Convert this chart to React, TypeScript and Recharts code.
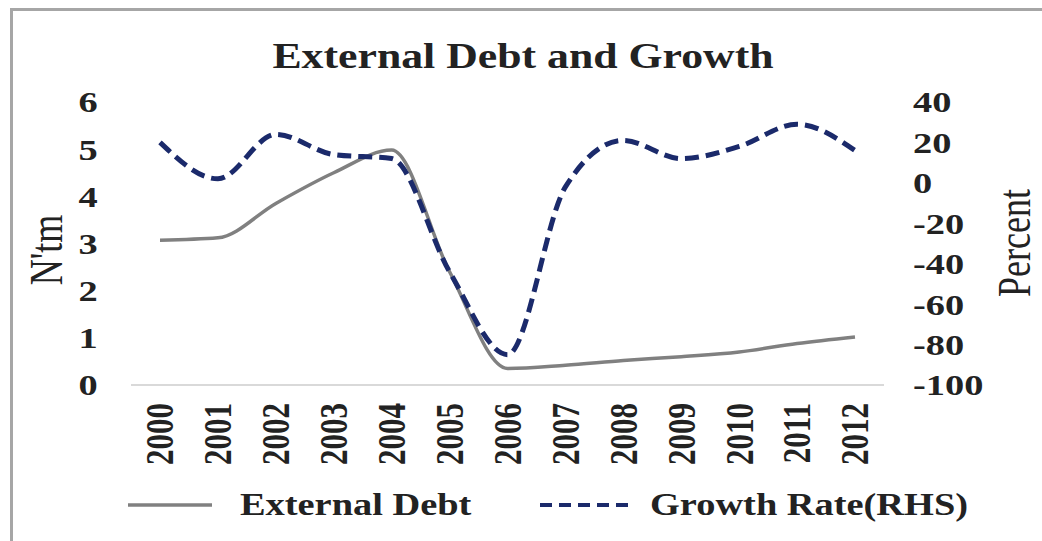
import { LineChart, Line, XAxis, YAxis, Legend } from "recharts";

const years = ["2000", "2001", "2002", "2003", "2004", "2005", "2006", "2007", "2008", "2009", "2010", "2011", "2012"];
const externalDebt = [3.07, 3.12, 3.85, 4.5, 4.98, 2.4, 0.35, 0.42, 0.52, 0.6, 0.7, 0.88, 1.02];
const growthRate = [20, 2, 24, 14, 12, -44, -85, -2, 21, 12, 18, 29, 16];
const leftTicks = [0, 1, 2, 3, 4, 5, 6];
const rightTicks = [-100, -80, -60, -40, -20, 0, 20, 40];

const data = years.map((y, i) => ({ year: y, debt: externalDebt[i], growth: growthRate[i] }));

const FONT = "'Liberation Serif', 'Times New Roman', serif";
const DEBT_COLOR = "#808080";
const GROWTH_COLOR = "#1b2a6b";
const TEXT = "#222";
// the original picture is stretched sideways
const SX = 1.28;

const LeftTick = (props: any) => (
    <text transform={`translate(88,${props.y}) scale(${SX},1)`} textAnchor="middle" dominantBaseline="central"
        fontFamily={FONT} fontWeight="bold" fontSize={30} fill={TEXT}>
        {props.payload.value}
    </text>
);

const RightTick = (props: any) => (
    <text transform={`translate(913,${props.y}) scale(${SX},1)`} textAnchor="start" dominantBaseline="central"
        fontFamily={FONT} fontWeight="bold" fontSize={30} fill={TEXT}>
        {props.payload.value}
    </text>
);

const YearTick = (props: any) => (
    <text transform={`translate(${props.x},403) scale(${SX},1) rotate(-90)`} textAnchor="end" dominantBaseline="central"
        fontFamily={FONT} fontWeight="bold" fontSize={31} fill={TEXT}>
        {props.payload.value}
    </text>
);

const SideLabel = ({ posX, posY, caption }: { posX: number; posY: number; caption: string }) => (
    <text transform={`translate(${posX},${posY}) scale(${SX},1) rotate(-90)`} textAnchor="middle" dominantBaseline="central"
        fontFamily={FONT} fontSize={36} fill={TEXT}>
        {caption}
    </text>
);

const LegendContent = () => (
    <svg width={1042} height={40} style={{ display: "block" }}>
        <line x1={128} x2={212} y1={20} y2={20} stroke={DEBT_COLOR} strokeWidth={3.5} />
        <text transform={`translate(240,20) scale(1.2,1)`} dominantBaseline="central" fontFamily={FONT} fontWeight="bold" fontSize={32} fill={TEXT}>
            External Debt
        </text>
        <line x1={540} x2={632} y1={20} y2={20} stroke={GROWTH_COLOR} strokeWidth={4} strokeDasharray="12 7" />
        <text transform={`translate(650,20) scale(1.2,1)`} dominantBaseline="central" fontFamily={FONT} fontWeight="bold" fontSize={32} fill={TEXT}>
            Growth Rate(RHS)
        </text>
    </svg>
);

export default function App() {
    return (
        <div style={{ position: "absolute", left: 0, top: 0, width: 1042, height: 541, background: "#fff", overflow: "hidden" }}>
            <div style={{ position: "absolute", left: 10, top: 8, width: 1040, height: 560, border: "3px solid #a6a6a6", boxSizing: "border-box" }} />
            <div style={{
                position: "absolute", left: 0, top: 37, width: 1046, textAlign: "center", fontFamily: FONT, fontWeight: "bold",
                fontSize: 35, lineHeight: "40px", color: TEXT, transform: "scaleX(1.25)", transformOrigin: "523px 0"
            }}>
                External Debt and Growth
            </div>
            <div style={{ position: "absolute", left: 0, top: 0 }}>
                <LineChart width={1042} height={541} data={data} margin={{ top: 102, right: 0, bottom: 16, left: 0 }}>
                    <XAxis dataKey="year" height={100} padding={{ left: 29, right: 29 }} tick={<YearTick />} tickLine={false}
                        axisLine={{ stroke: "#d9d9d9", strokeWidth: 2 }} interval={0} />
                    <YAxis yAxisId="left" width={131} domain={[0, 6]} ticks={leftTicks} tick={<LeftTick />} tickLine={false} axisLine={false}
                        label={<SideLabel posX={46} posY={250} caption="N'tm" />} />
                    <YAxis yAxisId="right" orientation="right" width={158} domain={[-100, 40]} ticks={rightTicks} tick={<RightTick />} tickLine={false} axisLine={false}
                        label={<SideLabel posX={1014} posY={243} caption="Percent" />} />
                    <Legend verticalAlign="bottom" height={40} content={<LegendContent />} />
                    <Line yAxisId="left" type="monotone" dataKey="debt" name="External Debt" stroke={DEBT_COLOR} strokeWidth={3.5} dot={false} isAnimationActive={false} />
                    <Line yAxisId="right" type="monotone" dataKey="growth" name="Growth Rate(RHS)" stroke={GROWTH_COLOR} strokeWidth={5} strokeDasharray="14 7" dot={false} isAnimationActive={false} />
                </LineChart>
            </div>
        </div>
    );
}
